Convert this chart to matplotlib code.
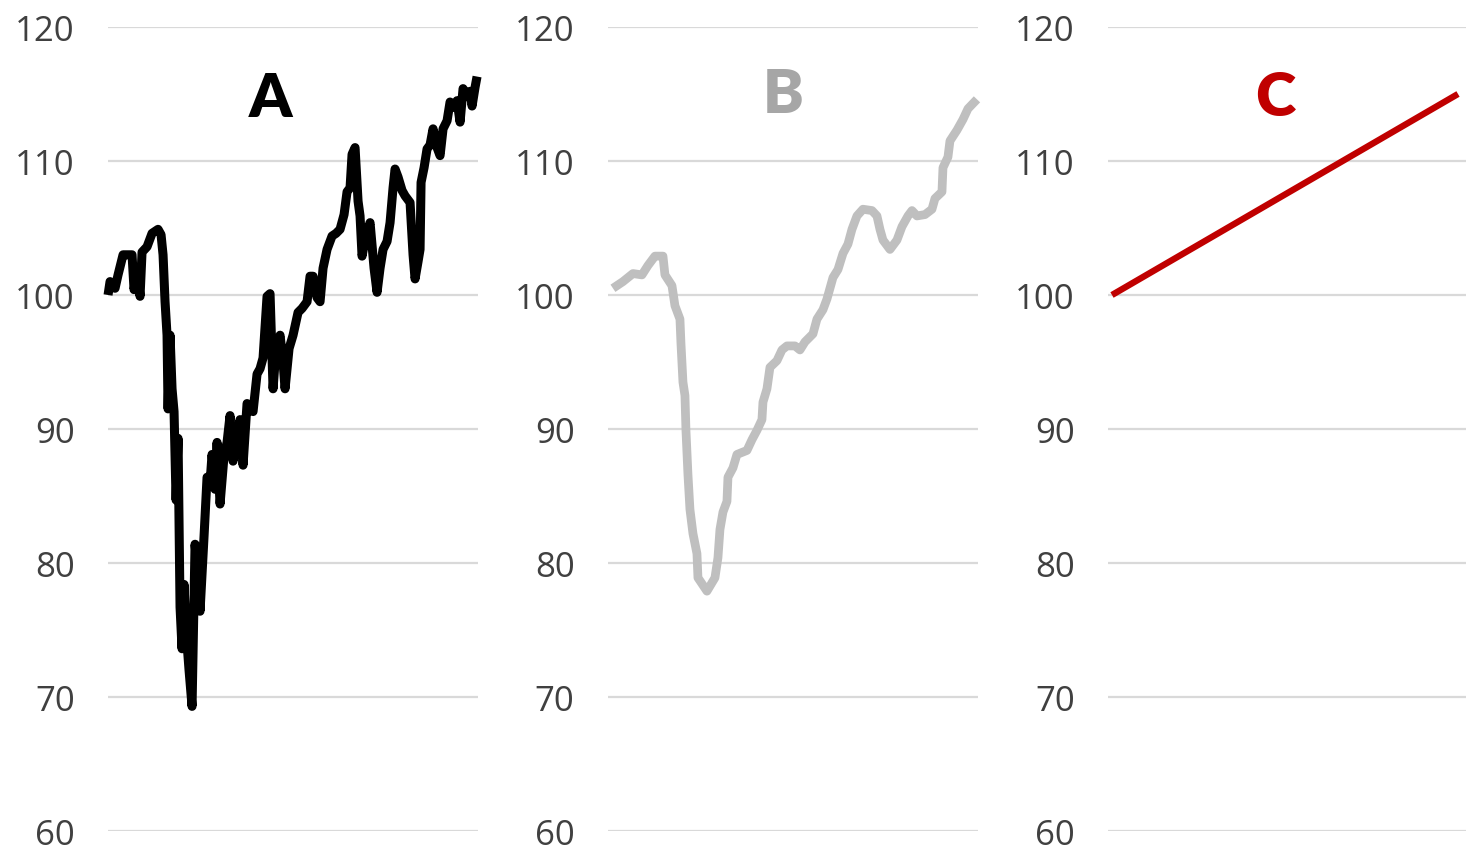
import matplotlib.pyplot as plt

# panel A - daily index, jagged
a_t = [0, 2, 7, 10, 15, 20, 24, 26, 29, 32, 34, 39, 44, 50, 53, 55, 57, 59, 60, 62,
       64, 66, 68, 70, 72, 74, 76, 78, 81, 84, 87, 90, 92, 96, 99, 102, 104, 107, 109, 112,
       116, 119, 122, 125, 129, 132, 135, 139, 142, 145, 149, 152, 155, 159, 162, 165, 168, 172, 175, 177,
       181, 185, 190, 194, 199, 202, 205, 209, 212, 215, 219, 224, 228, 232, 236, 239, 242, 244, 247, 250,
       252, 254, 258, 262, 266, 269, 272, 275, 279, 282, 285, 287, 290, 294, 297, 302, 305, 307, 310, 312,
       313, 316, 319, 322, 325, 329, 332, 335, 339, 342, 346, 349, 352, 355, 359, 362, 364, 367, 369]
a_val = [100.0, 101.0, 100.5, 101.5, 103.0, 103.0, 103.0, 100.4, 102.0, 99.9, 103.2, 103.6, 104.6, 104.9, 104.5, 103.0, 99.5, 97.0, 91.5, 97.0,
         93.0, 91.3, 84.7, 89.3, 76.7, 73.6, 78.4, 75.0, 72.0, 69.3, 81.4, 79.0, 76.4, 82.0, 86.4, 86.0, 88.1, 85.5, 89.0, 84.4,
         88.0, 89.0, 91.0, 87.6, 89.5, 90.7, 87.3, 91.9, 91.5, 91.3, 94.1, 94.5, 95.3, 99.9, 100.1, 93.0, 96.0, 97.0, 95.0, 93.0,
         96.0, 97.0, 98.7, 99.0, 99.5, 101.4, 101.4, 99.8, 99.5, 102.0, 103.4, 104.4, 104.6, 104.9, 106.0, 107.7, 108.0, 110.5, 111.0, 107.0,
         105.9, 102.9, 104.5, 105.4, 102.0, 100.2, 102.0, 103.4, 104.0, 105.4, 108.0, 109.4, 108.8, 107.8, 107.4, 106.9, 103.0, 101.2, 102.5, 103.4,
         108.4, 109.5, 110.9, 111.2, 112.4, 111.0, 110.4, 112.4, 113.0, 114.4, 114.0, 114.5, 112.9, 115.4, 114.8, 115.2, 114.1, 115.5, 116.3]

# panel B - smoothed
b_t = [5, 15, 25, 34, 40, 47, 55, 57, 64, 67, 72, 73, 75, 77, 78, 80, 82, 85, 89, 90,
       99, 107, 110, 112, 115, 119, 120, 125, 129, 139, 144, 149, 154, 155, 159, 162, 169, 174, 179, 187,
       192, 197, 205, 209, 215, 219, 222, 225, 230, 235, 240, 244, 249, 255, 264, 269, 272, 275, 282, 289,
       294, 300, 304, 309, 317, 324, 327, 334, 335, 340, 342, 349, 355, 360, 369]
b_val = [100.5, 101.0, 101.6, 101.5, 102.2, 102.9, 102.9, 101.5, 100.7, 99.2, 98.2, 96.4, 93.5, 92.5, 89.9, 86.6, 84.0, 82.2, 80.7, 78.9,
         77.9, 78.9, 80.4, 82.5, 83.8, 84.6, 86.4, 87.1, 88.1, 88.4, 89.2, 89.9, 90.7, 92.0, 93.0, 94.6, 95.1, 95.9, 96.2, 96.2,
         95.9, 96.5, 97.1, 98.2, 98.9, 99.7, 100.5, 101.3, 101.9, 103.1, 103.8, 104.9, 105.9, 106.4, 106.3, 105.9, 104.9, 104.1, 103.4, 104.1,
         105.1, 105.9, 106.3, 105.9, 106.0, 106.4, 107.2, 107.7, 109.5, 110.3, 111.5, 112.3, 113.1, 113.9, 114.6]

# panel C - straight trend
c_t = [4, 350]
c_val = [100, 115]

titles = ['A', 'B', 'C']
yticks = [60, 70, 80, 90, 100, 110, 120]

fig = plt.figure(figsize=(14.66, 8.53), dpi=100)

panels = [
    (a_t, a_val, '#000000', '#000000', 6.5, 0.0737, 0.2524, 370, 0.438, 114.7),
    (b_t, b_val, '#bfbfbf', '#a6a6a6', 6.3, 0.4147, 0.2524, 370, 0.473, 115.0),
    (c_t, c_val, '#c00000', '#c00000', 4.6, 0.7558, 0.2442, 358, 0.466, 114.8),
]

for i, (t, v, col, tcol, lw, left, width, xmax, tx, ty) in enumerate(panels):
    ax = fig.add_axes([left, 0.0246, width, 0.9426])
    ax.plot(t, v, color=col, lw=lw, solid_joinstyle='round', solid_capstyle='butt',
            zorder=3, clip_on=False)
    ax.set_xlim(0, xmax)
    ax.set_ylim(60, 120)
    ax.set_yticks(yticks)
    ax.set_yticklabels([str(y) for y in yticks], fontsize=25, color='#404040',
                       fontfamily='Open Sans')
    ax.tick_params(axis='y', length=0, pad=24)
    ax.set_xticks([])
    ax.grid(axis='y', color='#d9d9d9', lw=1.6)
    ax.set_axisbelow(True)
    for s in ax.spines.values():
        s.set_visible(False)
    ax.patch.set_alpha(0)
    ax.text(tx, ty, titles[i], transform=ax.get_yaxis_transform(), ha='center', va='center',
            fontsize=44, fontweight='heavy', color=tcol, fontfamily='Lato')

fig.savefig('out.png', dpi=100)
